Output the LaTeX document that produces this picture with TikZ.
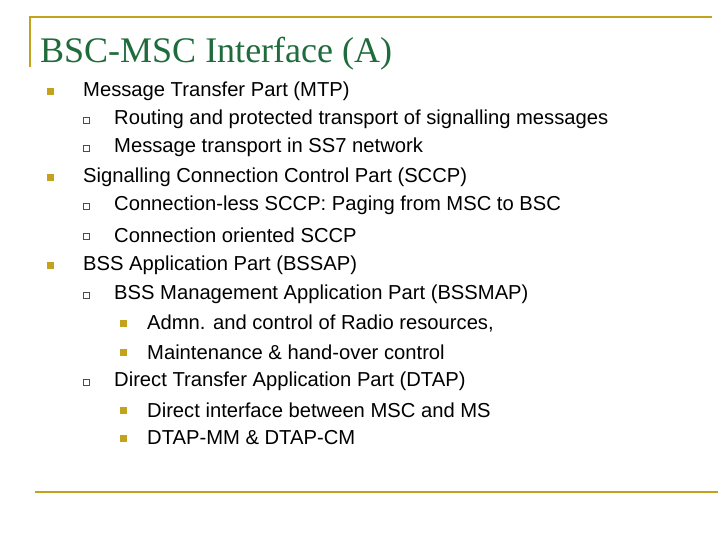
\documentclass[tikz,border=0pt]{standalone}
\usepackage{fontspec}
\setmainfont{Liberation Sans}
\newfontfamily\titlefont{Liberation Serif}
\begin{document}
\begin{tikzpicture}[x=1pt,y=-1pt,
  txt/.style={anchor=west,inner sep=0pt,font=\fontsize{20.2}{22}\selectfont},
  bulA/.style={fill=gold,draw=none,minimum size=7pt,inner sep=0pt},
  bulB/.style={draw=black!70,fill=white,line width=0.6pt,minimum size=6pt,inner sep=0pt},
  rule/.style={draw=gold,line width=1.6pt}]
\definecolor{gold}{HTML}{C4A21C}
\definecolor{tgreen}{HTML}{1E6B3C}
\useasboundingbox (0,0) rectangle (728,546);
\coordinate (t1) at (30,17); \coordinate (t2) at (712,17); \coordinate (t3) at (30,67);
\draw[rule] (t3) -- (t1) -- (t2);
\coordinate (b1) at (35,492); \coordinate (b2) at (718,492);
\draw[rule] (b1) -- (b2);
\node[anchor=base west,inner sep=0pt,text=tgreen,font=\titlefont\fontsize{36}{40}\selectfont] (title) at (40,62) {BSC-MSC Interface (A)};
\foreach \y/\lv/\t [count=\i] in {
91/1/Message Transfer Part (MTP),
119/2/Routing and protected transport of signalling messages,
147/2/Message transport in SS7 network,
177/1/Signalling Connection Control Part (SCCP),
205/2/Connection-less SCCP: Paging from MSC to BSC,
235/2/Connection oriented SCCP,
265/1/BSS Application Part (BSSAP),
294/2/BSS Management Application Part (BSSMAP),
323/3/{Admn. and control of Radio resources,},
352/3/Maintenance \& hand-over control,
381/2/Direct Transfer Application Part (DTAP),
410/3/Direct interface between MSC and MS,
438/3/DTAP-MM \& DTAP-CM}{
  \ifcase\lv\or
    \node[bulA] (b\i) at (50,\y) {}; \node[txt] (l\i) at (83,\y) {\t};
  \or
    \node[bulB] (b\i) at (86,\y+1) {}; \node[txt] (l\i) at (114,\y) {\t};
  \or
    \node[bulA] (b\i) at (123,\y) {}; \node[txt] (l\i) at (147,\y) {\t};
  \fi
}
\end{tikzpicture}
\end{document}
